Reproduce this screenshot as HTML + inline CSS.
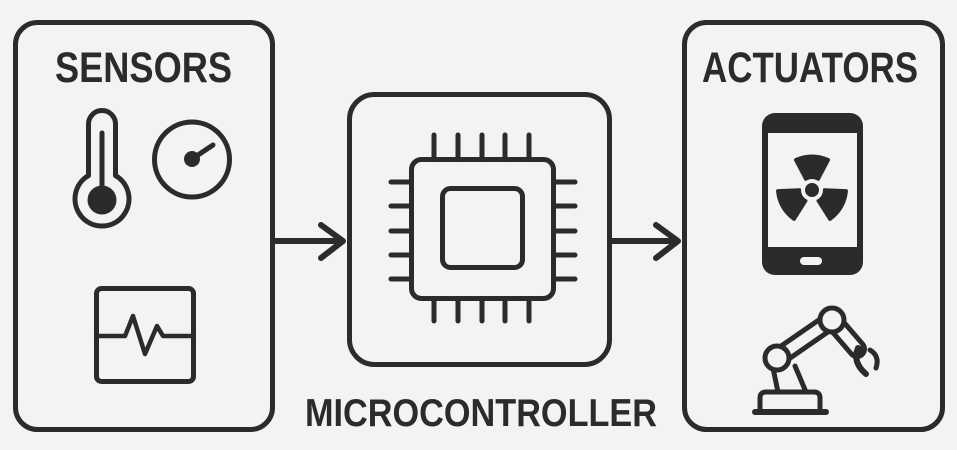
<!DOCTYPE html>
<html>
<head>
<meta charset="utf-8">
<style>
  html,body{margin:0;padding:0;background:#f3f3f3;}
  svg{display:block;}
  text{font-family:"Liberation Sans",sans-serif;font-weight:bold;fill:#2b2b2b;}
</style>
</head>
<body>
<svg width="957" height="450" viewBox="0 0 957 450" xmlns="http://www.w3.org/2000/svg">
  <rect x="0" y="0" width="957" height="450" fill="#f3f3f3"/>
  <g fill="none" stroke="#2b2b2b" stroke-width="5" stroke-linecap="round" stroke-linejoin="round">
    <!-- Sensors box -->
    <rect x="15.5" y="22.5" width="257" height="407" rx="22"/>
    <!-- Actuators box -->
    <rect x="684.5" y="22.5" width="258" height="407" rx="22"/>
    <!-- Micro box -->
    <rect x="349.5" y="94.5" width="260" height="270" rx="25"/>

    <!-- Thermometer -->
    <path d="M88.5 175.6 V124 A13.5 13.5 0 0 1 115.5 124 V175.6 A27 27 0 1 1 88.5 175.6 Z"/>
    <line x1="102" y1="133" x2="102" y2="195"/>
    <!-- Gauge -->
    <circle cx="192" cy="159.5" r="37.5"/>
    <line x1="192" y1="159" x2="213" y2="145"/>

    <!-- ECG -->
    <rect x="96.5" y="288.5" width="97" height="93" rx="5"/>
    <path d="M97 336 H125 L133 316 L145 354 L157 326 L163 336 H193" stroke-width="4.5"/>

    <!-- Arrows -->
    <g stroke-width="6">
      <line x1="275" y1="241" x2="341" y2="241"/>
      <polyline points="321,225 343,241 321,258"/>
      <line x1="612" y1="241" x2="676" y2="241"/>
      <polyline points="656,225 678,241 656,258"/>
    </g>

    <!-- Chip -->
    <rect x="411.5" y="159.5" width="142" height="139" rx="10"/>
    <rect x="442.5" y="188.5" width="80" height="79" rx="8"/>
    <g stroke-width="5">
      <line x1="434" y1="135" x2="434" y2="159"/>
      <line x1="458" y1="135" x2="458" y2="159"/>
      <line x1="482" y1="135" x2="482" y2="159"/>
      <line x1="505" y1="135" x2="505" y2="159"/>
      <line x1="529" y1="135" x2="529" y2="159"/>
      <line x1="434" y1="299" x2="434" y2="321"/>
      <line x1="458" y1="299" x2="458" y2="321"/>
      <line x1="482" y1="299" x2="482" y2="321"/>
      <line x1="505" y1="299" x2="505" y2="321"/>
      <line x1="529" y1="299" x2="529" y2="321"/>
      <line x1="391" y1="182" x2="411" y2="182"/>
      <line x1="391" y1="206" x2="411" y2="206"/>
      <line x1="391" y1="231" x2="411" y2="231"/>
      <line x1="391" y1="255" x2="411" y2="255"/>
      <line x1="391" y1="279" x2="411" y2="279"/>
      <line x1="554" y1="182" x2="575" y2="182"/>
      <line x1="554" y1="206" x2="575" y2="206"/>
      <line x1="554" y1="231" x2="575" y2="231"/>
      <line x1="554" y1="255" x2="575" y2="255"/>
      <line x1="554" y1="279" x2="575" y2="279"/>
    </g>
  </g>

  <!-- Thermometer bulb fill & gauge dot -->
  <circle cx="102" cy="200" r="14.5" fill="#2b2b2b"/>
  <circle cx="192" cy="159" r="8" fill="#2b2b2b"/>

  <!-- Phone -->
  <rect x="762" y="113" width="101" height="162" rx="13" fill="#2b2b2b"/>
  <rect x="768" y="133" width="89" height="114" fill="#f3f3f3"/>
  <rect x="800" y="257" width="22" height="8" rx="4" fill="#f3f3f3"/>
  <!-- Fan trefoil -->
  <g fill="#2b2b2b" stroke="#2b2b2b" stroke-width="4" stroke-linejoin="round" transform="translate(812,190)">
    <path d="M-6 -11 L-16 -30 Q0 -37 16 -30 L6 -11 Q0 -13 -6 -11 Z"/>
    <path d="M-6 -11 L-16 -30 Q0 -37 16 -30 L6 -11 Q0 -13 -6 -11 Z" transform="rotate(120)"/>
    <path d="M-6 -11 L-16 -30 Q0 -37 16 -30 L6 -11 Q0 -13 -6 -11 Z" transform="rotate(240)"/>
  </g>
  <circle cx="812" cy="190" r="11" fill="#f3f3f3"/>
  <circle cx="812" cy="190" r="7" fill="#2b2b2b"/>

  <!-- Robot arm -->
  <g fill="none" stroke="#2b2b2b" stroke-linecap="round" stroke-linejoin="round">
    <line x1="832" y1="320" x2="857" y2="349" stroke-width="20"/>
    <line x1="832" y1="320" x2="857" y2="349" stroke-width="10" stroke="#f3f3f3" stroke-linecap="butt"/>
    <line x1="777" y1="358" x2="832" y2="320" stroke-width="20"/>
    <line x1="777" y1="358" x2="832" y2="320" stroke-width="10" stroke="#f3f3f3" stroke-linecap="butt"/>
    <path d="M858 348 Q852 362 866 374" stroke-width="6"/>
    <path d="M870 350 Q880 356 876 368" stroke-width="5"/>
    <path d="M773 368 L778 392 M795 366 L806 392" stroke-width="5"/>
    <path d="M760 412 V398 Q760 392 766 392 H814 Q820 392 820 398 V412" stroke-width="5"/>
    <line x1="755" y1="412" x2="826" y2="412" stroke-width="6"/>
  </g>
  <circle cx="777" cy="358" r="12" fill="#f3f3f3" stroke="#2b2b2b" stroke-width="5"/>
  <circle cx="832" cy="320" r="12" fill="#f3f3f3" stroke="#2b2b2b" stroke-width="5"/>

  <!-- Labels -->
  <text x="55" y="82" font-size="43" textLength="177" lengthAdjust="spacingAndGlyphs">SENSORS</text>
  <text x="702" y="82" font-size="43" textLength="216" lengthAdjust="spacingAndGlyphs">ACTUATORS</text>
  <text x="305" y="426" font-size="38.5" textLength="352" lengthAdjust="spacingAndGlyphs">MICROCONTROLLER</text>
</svg>
</body>
</html>
